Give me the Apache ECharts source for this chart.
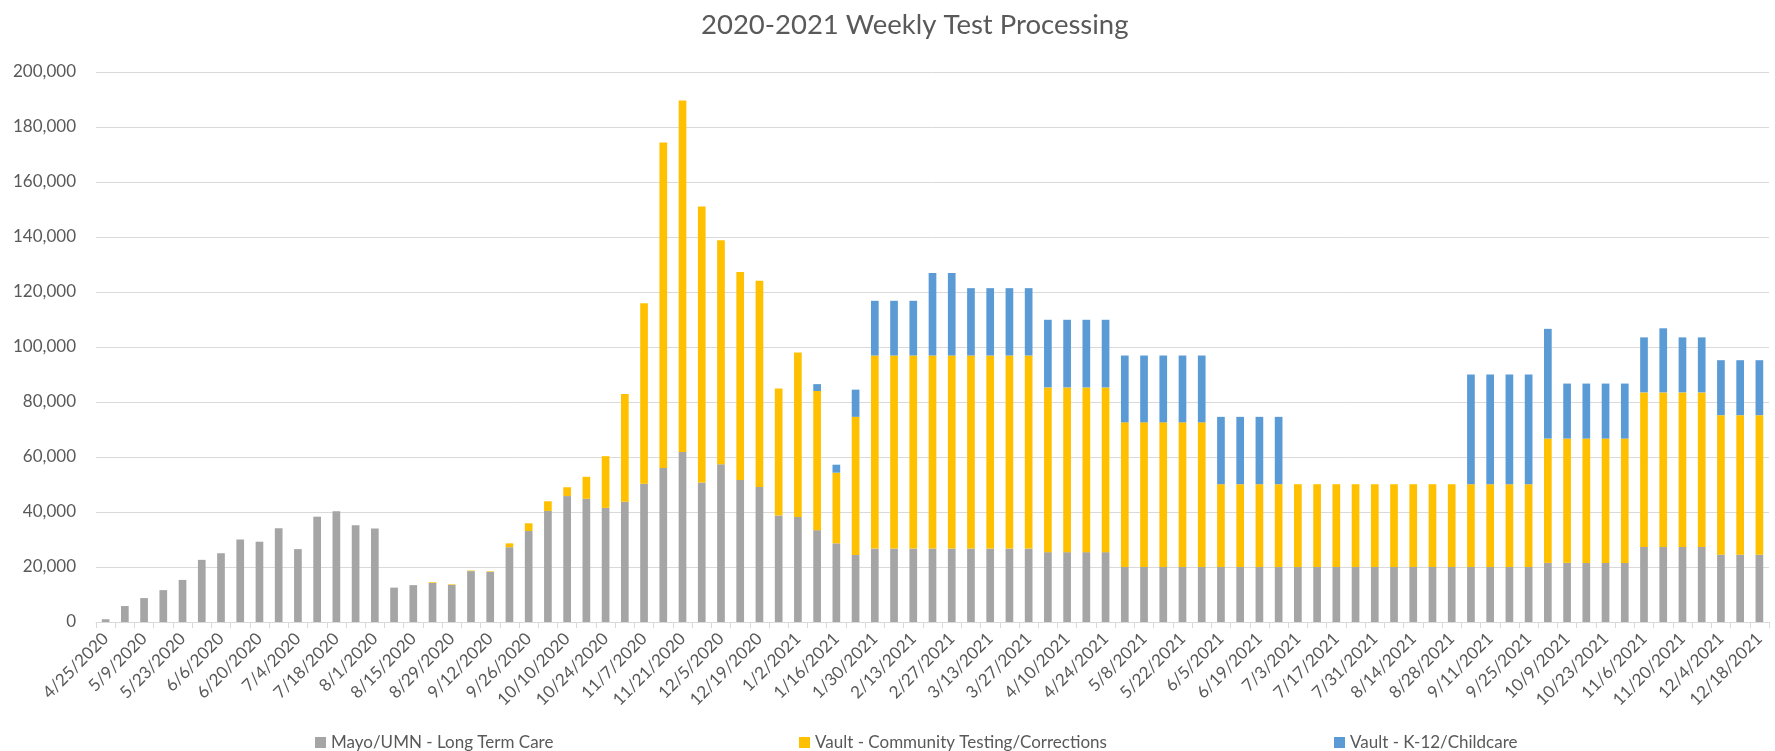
<!DOCTYPE html>
<html>
<head>
<meta charset="utf-8">
<script src="https://cdn.jsdelivr.net/npm/echarts@6/dist/echarts.min.js"></script>
<style>
html,body{margin:0;padding:0;background:#fff;}
#chart{width:1775px;height:751px;}
</style>
</head>
<body>
<div id="chart"></div>
<script>
var categories = [
'4/25/2020','5/2/2020','5/9/2020','5/16/2020','5/23/2020','5/30/2020','6/6/2020','6/13/2020','6/20/2020','6/27/2020',
'7/4/2020','7/11/2020','7/18/2020','7/25/2020','8/1/2020','8/8/2020','8/15/2020','8/22/2020','8/29/2020','9/5/2020',
'9/12/2020','9/19/2020','9/26/2020','10/3/2020','10/10/2020','10/17/2020','10/24/2020','10/31/2020','11/7/2020','11/14/2020',
'11/21/2020','11/28/2020','12/5/2020','12/12/2020','12/19/2020','12/26/2020',
'1/2/2021','1/9/2021','1/16/2021','1/23/2021','1/30/2021','2/6/2021','2/13/2021','2/20/2021','2/27/2021','3/6/2021',
'3/13/2021','3/20/2021','3/27/2021','4/3/2021','4/10/2021','4/17/2021','4/24/2021','5/1/2021','5/8/2021','5/15/2021',
'5/22/2021','5/29/2021','6/5/2021','6/12/2021','6/19/2021','6/26/2021','7/3/2021','7/10/2021','7/17/2021','7/24/2021',
'7/31/2021','8/7/2021','8/14/2021','8/21/2021','8/28/2021','9/4/2021','9/11/2021','9/18/2021','9/25/2021','10/2/2021',
'10/9/2021','10/16/2021','10/23/2021','10/30/2021','11/6/2021','11/13/2021','11/20/2021','11/27/2021','12/4/2021','12/11/2021',
'12/18/2021'
];

var mayoLongTermCare = [
1000,5800,8700,11600,15300,22600,25000,30000,29200,34100,
26500,38300,40300,35200,34000,12500,13400,14200,13500,18500,
18200,27200,33100,40400,45800,44800,41500,43700,50300,56000,
61800,50700,57400,51600,49100,38700,
38200,33400,28600,24400,26700,26700,26700,26700,26700,26700,
26700,26700,26700,25400,25400,25400,25400,20000,20000,20000,
20000,20000,20000,20000,20000,20000,20000,20000,20000,20000,
20000,20000,20000,20000,20000,20000,20000,20000,20000,21500,
21500,21500,21500,21500,27300,27300,27300,27300,24500,24500,
24500
];

var vaultCommunity = [
0,0,0,0,0,0,0,0,0,0,
0,0,0,0,0,0,0,250,200,200,
200,1400,2800,3500,3200,8000,18800,39200,65600,118400,
127800,100400,81400,75700,75000,46200,
59800,50600,25700,50200,70200,70200,70200,70200,70200,70200,
70200,70200,70200,59900,59900,59900,59900,52600,52600,52600,
52600,52600,30100,30100,30100,30100,30100,30100,30100,30100,
30100,30100,30100,30100,30100,30100,30100,30100,30100,45200,
45200,45200,45200,45200,56200,56200,56200,56200,50700,50700,
50700
];

var vaultK12 = [
0,0,0,0,0,0,0,0,0,0,
0,0,0,0,0,0,0,0,0,0,
0,0,0,0,0,0,0,0,0,0,
0,0,0,0,0,0,
0,2500,2900,9900,19900,19900,19900,30000,30000,24500,
24500,24500,24500,24600,24600,24600,24600,24300,24300,24300,
24300,24300,24500,24500,24500,24500,0,0,0,0,
0,0,0,0,0,39900,39900,39900,39900,39900,
20000,20000,20000,20000,20000,23300,20000,20000,20000,20000,
20000
];

var seriesNames = ['Mayo/UMN - Long Term Care','Vault - Community Testing/Corrections','Vault - K-12/Childcare'];
var seriesColors = ['#A5A5A5','#FFC000','#5B9BD5'];
var seriesData = [mayoLongTermCare, vaultCommunity, vaultK12];

var FONT = 'Lato, "Open Sans", sans-serif';
var TXT = '#595959';

var chart = echarts.init(document.getElementById('chart'), null, {renderer:'canvas'});

var legendLefts = [310, 794, 1329];
var legends = seriesNames.map(function(n, i){
  return {
    data:[{name:n, icon:'rect'}],
    left: legendLefts[i], top: 729,
    itemWidth: 11, itemHeight: 11, itemGap: 5,
    textStyle:{color:TXT, fontSize:17, fontFamily:FONT},
    selectedMode:false
  };
});

chart.setOption({
  animation:false,
  backgroundColor:'#fff',
  title:{
    text:'2020-2021 Weekly Test Processing',
    left:696, top:6,
    textStyle:{color:TXT, fontSize:27.5, fontWeight:'normal', fontFamily:FONT}
  },
  legend: legends,
  grid:{left:96, right:6, top:72, bottom:129, containLabel:false},
  xAxis:{
    type:'category',
    data:categories,
    boundaryGap:true,
    axisLine:{lineStyle:{color:'#D9D9D9', width:1}},
    axisTick:{show:true, interval:0, length:6, lineStyle:{color:'#D9D9D9'}},
    axisLabel:{interval:1, rotate:45, margin:14, color:TXT, fontSize:17, fontFamily:FONT}
  },
  yAxis:{
    type:'value',
    min:0, max:200000, interval:20000,
    axisLine:{show:false},
    axisTick:{show:false},
    splitLine:{lineStyle:{color:'#D9D9D9', width:1}},
    axisLabel:{margin:20, color:TXT, fontSize:17, fontFamily:FONT,
      formatter:function(v){ return v.toString().replace(/\B(?=(\d{3})+(?!\d))/g, ','); }}
  },
  series: seriesNames.map(function(n, i){
    return {
      name:n, type:'bar', stack:'total',
      data:seriesData[i],
      barWidth:'40%',
      itemStyle:{color:seriesColors[i]}
    };
  })
});
</script>
</body>
</html>
